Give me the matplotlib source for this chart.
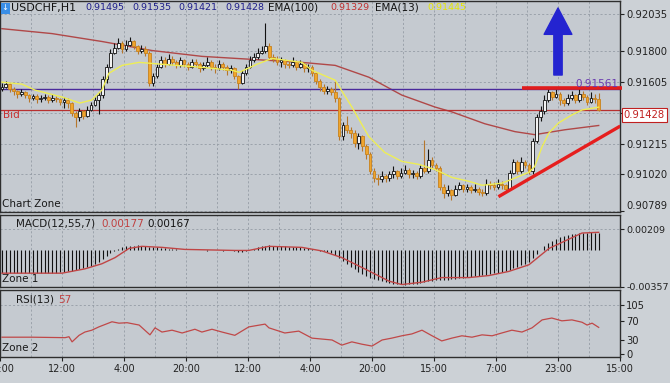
import numpy as np
import matplotlib
matplotlib.use("Agg")
import matplotlib.pyplot as plt
from matplotlib import transforms

plt.rcParams['font.family'] = ['DejaVu Sans']

# prices are 0.9xxxx, stored as xxxx (units of 0.00001 above 0.90)
open_first = 1560
close_p = [1575, 1590, 1560, 1545, 1530, 1540, 1520, 1505, 1515, 1495,
           1500, 1510, 1490, 1505, 1495, 1480, 1490, 1470, 1410, 1380,
           1420, 1390, 1430, 1460, 1490, 1520, 1620, 1700, 1790, 1820,
           1850, 1810, 1840, 1860, 1830, 1800, 1810, 1790, 1600, 1640,
           1700, 1740, 1720, 1750, 1730, 1710, 1740, 1720, 1700, 1730,
           1720, 1690, 1710, 1730, 1700, 1690, 1720, 1700, 1680, 1690,
           1640, 1600, 1660, 1700, 1740, 1760, 1790, 1800, 1830, 1760,
           1750, 1730, 1740, 1720, 1710, 1730, 1700, 1720, 1690, 1700,
           1660, 1610, 1570, 1550, 1560, 1540, 1500, 1260, 1330, 1300,
           1280, 1220, 1260, 1200, 1150, 1040, 1000, 990, 1010, 995,
           1020, 1040, 1010, 1030, 1050, 1020, 1030, 1010, 1060, 1040,
           1110, 1080, 1060, 940, 900, 920, 890, 930, 950, 930,
           940, 920, 930, 910, 905, 960, 950, 940, 960, 950,
           930, 1030, 1100, 1040, 1100, 1080, 1040, 1230, 1380, 1420,
           1490, 1540, 1510, 1530, 1490, 1470, 1500, 1520, 1490, 1530,
           1510, 1480, 1500, 1495, 1428]
high_p = [1600, 1610, 1600, 1570, 1555, 1560, 1550, 1530, 1530, 1525,
          1520, 1530, 1520, 1525, 1515, 1505, 1510, 1500, 1480, 1420,
          1440, 1430, 1450, 1480, 1510, 1540, 1640, 1720, 1810, 1850,
          1880, 1860, 1870, 1890, 1870, 1840, 1840, 1830, 1800, 1660,
          1720, 1770, 1760, 1780, 1770, 1740, 1760, 1750, 1730, 1750,
          1750, 1730, 1730, 1760, 1740, 1720, 1740, 1730, 1710, 1710,
          1700, 1650, 1680, 1720, 1770, 1790, 1820, 1830, 1980, 1850,
          1780, 1770, 1760, 1750, 1740, 1760, 1740, 1740, 1730, 1720,
          1710, 1670, 1620, 1590, 1580, 1570, 1610, 1510, 1350, 1390,
          1320, 1300, 1280, 1270, 1210, 1160, 1060, 1020, 1040, 1020,
          1040, 1070, 1050, 1060, 1080, 1060, 1050, 1040, 1080, 1240,
          1180, 1130, 1090, 1070, 960, 950, 930, 950, 970, 960,
          960, 950, 960, 940, 930, 990, 980, 970, 990, 980,
          960, 1050, 1120, 1110, 1130, 1110, 1090, 1250, 1400, 1450,
          1520, 1560, 1550, 1560, 1540, 1500, 1530, 1550, 1530, 1570,
          1550, 1520, 1540, 1525, 1535]
low_p = [1545, 1565, 1540, 1520, 1500, 1515, 1500, 1480, 1490, 1470,
         1480, 1490, 1470, 1480, 1475, 1460, 1440, 1440, 1390, 1320,
         1360, 1370, 1380, 1420, 1450, 1400, 1500, 1600, 1690, 1780,
         1810, 1790, 1800, 1830, 1810, 1780, 1790, 1770, 1580, 1580,
         1630, 1690, 1700, 1710, 1710, 1690, 1700, 1700, 1680, 1690,
         1700, 1670, 1680, 1700, 1680, 1660, 1680, 1680, 1650, 1660,
         1620, 1560, 1590, 1650, 1690, 1730, 1750, 1780, 1790, 1740,
         1730, 1710, 1700, 1690, 1690, 1700, 1680, 1690, 1670, 1670,
         1640, 1590, 1550, 1530, 1530, 1520, 1480, 1240, 1240, 1280,
         1250, 1190, 1180, 1170, 1120, 1020, 970, 950, 970, 970,
         980, 1000, 990, 1000, 1020, 1000, 1000, 990, 1000, 1030,
         1030, 1060, 1040, 920, 870, 880, 860, 880, 920, 910,
         910, 900, 910, 890, 880, 890, 930, 920, 930, 930,
         910, 920, 1020, 1020, 1030, 1060, 1020, 1020, 1220, 1360,
         1400, 1480, 1490, 1500, 1460, 1450, 1460, 1490, 1470, 1480,
         1490, 1460, 1470, 1470, 1421]

ema13_x = [0, 5.2, 8.5, 15.5, 20.1, 23.2, 25.8, 27.6, 31, 35.4, 41.3, 51.6, 59.4, 61.2,
           65.8, 69.7, 77.4, 80, 86, 90.3, 94.7, 98.8, 103.2, 107.6, 111.7, 116.1, 120.5,
           123.9, 129, 131.6, 136, 137.5, 139.4, 141.2, 143.7, 147.1, 149.7, 154]
ema13_p = [1603, 1590, 1553, 1509, 1471, 1490, 1553, 1659, 1709, 1728, 1716, 1697, 1678, 1665,
           1716, 1753, 1728, 1678, 1615, 1446, 1258, 1158, 1102, 1083, 1051, 1001, 976,
           951, 964, 989, 1033, 1070, 1195, 1283, 1346, 1396, 1427, 1445]
ema100_x = [0, 12.9, 25.8, 38.7, 51.6, 64.5, 77.4, 86, 94.7, 103.2, 111.7, 116.1, 124.6,
            132.4, 137.5, 145.3, 154]
ema100_p = [1941, 1910, 1860, 1803, 1766, 1747, 1728, 1709, 1634, 1521, 1446, 1415, 1340,
            1290, 1271, 1302, 1329]

# MACD(12,55,7), units of 0.00001
macd_hist = [-220, -221, -222, -222, -223, -222, -222, -221, -221, -220,
             -220, -219, -218, -217, -216, -214, -210, -204, -198, -190,
             -182, -174, -163, -150, -132, -110, -80, -50, -25, -5,
             15, 30, 40, 45, 48, 50, 48, 45, 38, 35,
             30, 25, 20, 15, 12, 10, 8, 5, 3, 2,
             2, 0, 0, -2, 0, 2, 0, -2, 0, 0,
             -5, -15, -20, -10, 5, 15, 30, 40, 48, 50,
             48, 45, 42, 40, 38, 35, 32, 30, 25, 20,
             12, 5, -2, -8, -15, -25, -40, -70, -100, -130,
             -160, -185, -210, -230, -250, -265, -280, -290, -300, -310,
             -318, -325, -330, -332, -333, -332, -330, -325, -320, -310,
             -300, -295, -292, -290, -288, -285, -280, -275, -270, -265,
             -260, -255, -250, -245, -240, -235, -230, -225, -220, -215,
             -205, -190, -175, -160, -145, -130, -110, -70, -30, 5,
             40, 70, 95, 115, 130, 140, 150, 158, 163, 168,
             172, 175, 176, 172, 167]
signal_x = [0, 15.5, 21.4, 25.8, 29.2, 32.8, 36.1, 41.3, 47.2, 60.1, 63.7, 68.9, 77.4, 82.6,
            87.7, 94.7, 99.9, 103.2, 108.4, 113.5, 120.5, 125.7, 130.8, 136, 141.2, 146.3,
            149.7, 154]
signal_v = [-222, -222, -180, -130, -70, 20, 40, 30, 10, 0, 0, 40, 30, -5,
            -70, -200, -300, -333, -310, -265, -265, -245, -205, -140, 20, 110,
            170, 177]

rsi_x = [0, 7.7, 16.3, 17.3, 18.1, 19.9, 21.4, 23.2, 25, 28.4, 30.2, 32.3, 35.4, 38.2, 39.5,
         41.3, 43.9, 46.5, 49.8, 51.6, 54.2, 56.8, 60.1, 63.7, 67.9, 68.9, 73, 76.6, 80,
         82.6, 85.2, 87.7, 90.3, 92.9, 95.5, 98.1, 100.6, 103.2, 105.8, 108.4, 111, 113.5,
         116.1, 118.7, 121.3, 123.9, 126.5, 129, 131.6, 134.2, 136.8, 139.4, 141.9, 144.5,
         147.1, 149.7, 151, 152.3, 154]
rsi_v = [36, 36, 35, 37, 26, 40, 47, 51, 58, 69, 66, 67, 62, 41, 56,
         47, 51, 45, 53, 47, 53, 47, 40, 58, 64, 56, 45, 49, 34,
         32, 30, 19, 26, 21, 17, 30, 34, 39, 43, 51, 39, 28,
         34, 39, 36, 41, 39, 45, 51, 47, 56, 73, 77, 71,
         73, 68, 62, 66, 57]

time_labels = ['20:00', '12:00', '4:00', '20:00', '12:00', '4:00', '20:00',
               '15:00', '7:00', '23:00', '15:00']
price_ticks = [0.92035, 0.91800, 0.91605, 0.91410, 0.91215, 0.91020, 0.90789]
macd_ticks = [0.00209, -0.00357]
rsi_ticks = [105, 70, 30, 0]

bid = 0.91428
level = 0.91561
resist_x = [134.2, 160]
resist_y = [0.91568, 0.91568]
trend_x = [128.5, 159.2]
trend_y = [0.90884, 0.91320]
arrow_x = 143.5
arrow_from = 0.91648
arrow_to = 0.92072


def price(v):
    return 0.9 + np.asarray(v, dtype=float) / 100000.0


W, H = 670.0, 383.0
bg = '#c5cad0'
gridc = '#959ca5'

fig = plt.figure(figsize=(6.7, 3.83), dpi=100)
fig.patch.set_facecolor('#ccd1d6')


def box(top, bottom):
    return [0.0, 1 - bottom / H, 620 / W, (bottom - top) / H]


ax1 = fig.add_axes(box(1, 212))
ax2 = fig.add_axes(box(215, 287))
ax3 = fig.add_axes(box(290, 357))


def style(ax, ylim, yticks, labels):
    ax.set_facecolor(bg)
    ax.set_xlim(-0.5, 159.5)
    ax.set_ylim(*ylim)
    ax.yaxis.tick_right()
    ax.set_yticks(yticks)
    ax.set_yticklabels(labels)
    ax.tick_params(axis='y', labelsize=7.2, colors='#222222', length=3, width=0.8, pad=1.5)
    ax.set_xticks(np.arange(0, 161, 16) - 0.5)
    ax.set_xticks(np.arange(8, 161, 16) - 0.5, minor=True)
    ax.tick_params(axis='x', which='minor', length=0)
    ax.grid(axis='x', which='both', ls=(0, (2.5, 2.5)), color=gridc, lw=0.6)
    for s in ax.spines.values():
        s.set_color('#2e2e2e')
        s.set_linewidth(1.0)


# ---- main chart
style(ax1, (0.90782, 0.92116), price_ticks, ['%.5f' % t for t in price_ticks])
ax1.tick_params(axis='x', which='both', labelbottom=False, length=0)
for t in price_ticks:
    ax1.axhline(t, ls=(0, (2.5, 2.5)), color=gridc, lw=0.6, zorder=0.5)
ax1.get_yticklabels()[-1].set_va('bottom')

c = price(close_p)
o = np.r_[price(open_first), c[:-1]]
h = price(high_p)
l = price(low_p)
x = np.arange(len(c))
up = c >= o
ax1.vlines(x[up], l[up], h[up], color='#111111', lw=0.8, zorder=3)
ax1.vlines(x[~up], l[~up], h[~up], color='#b5762c', lw=0.8, zorder=3)
lo = np.minimum(o, c)
hh = np.maximum(np.abs(c - o), 0.00002)
ax1.bar(x[up], hh[up], 0.72, bottom=lo[up], color='#f2f2f2', edgecolor='#111111', lw=0.6, zorder=4)
ax1.bar(x[~up], hh[~up], 0.72, bottom=lo[~up], color='#f0a52c', edgecolor='#c8821e', lw=0.6, zorder=4)

ax1.plot(ema100_x, price(ema100_p), color='#b04848', lw=1.0, zorder=2)
ax1.plot(ema13_x, price(ema13_p), color='#eeee55', lw=1.0, zorder=5)

ax1.axhline(level, color='#4a2a9c', lw=1.0, zorder=2)
ax1.axhline(bid, color='#b83030', lw=0.9, zorder=2)
ax1.plot(resist_x, resist_y, color='#e01c1c', lw=2.6, solid_capstyle='butt', zorder=6, clip_on=False)
ax1.plot(trend_x, trend_y, color='#e61e1e', lw=2.4, zorder=6)
ax1.annotate('', xy=(arrow_x, arrow_to), xytext=(arrow_x, arrow_from),
             arrowprops=dict(arrowstyle='simple,head_width=2.0,head_length=1.9,tail_width=0.6',
                             color='#2424d0', shrinkA=0, shrinkB=0, mutation_scale=10), zorder=7)

trans = transforms.blended_transform_factory(ax1.transAxes, ax1.transData)
ax1.text(1.006, bid, '0.91428', transform=trans, ha='left', va='top', fontsize=7.2,
         color='#c02020', clip_on=False, zorder=10,
         bbox=dict(boxstyle='square,pad=0.2', fc='white', ec='#c02020', lw=0.8))
ax1.text(0.997, level, '0.91561', transform=trans, ha='right', va='bottom', fontsize=7.5,
         color='#6a3cb0', zorder=10)
ax1.text(0.005, bid - 0.00003, 'Bid', transform=trans, ha='left', va='top', fontsize=7.5,
         color='#c83030')
ax1.text(0.004, 0.015, 'Chart Zone', transform=ax1.transAxes, ha='left', va='bottom',
         fontsize=7.5, color='#1a1a1a')

# ---- MACD
style(ax2, (-0.00357, 0.00346), macd_ticks, ['%.5f' % t for t in macd_ticks])
ax2.tick_params(axis='x', which='both', labelbottom=False, length=0)
ax2.tick_params(axis='y', labelsize=6.8)
ax2.axhline(macd_ticks[0], ls=(0, (2.5, 2.5)), color=gridc, lw=0.6, zorder=0.5)
ax2.vlines(x, 0, np.asarray(macd_hist) / 100000.0, color='#111111', lw=0.8, zorder=3)
ax2.plot(signal_x, np.asarray(signal_v) / 100000.0, color='#c04545', lw=1.0, zorder=4)
ax2.text(16 / 620, 1 - 9 / 72, 'MACD(12,55,7)', transform=ax2.transAxes, va='center',
         fontsize=7.5, color='#1a1a1a')
ax2.text(101 / 620, 1 - 9 / 72, '0.00177', transform=ax2.transAxes, va='center',
         fontsize=7.5, color='#c04040')
ax2.text(147 / 620, 1 - 9 / 72, '0.00167', transform=ax2.transAxes, va='center',
         fontsize=7.5, color='#111111')
ax2.text(0.004, 8 / 72, 'Zone 1', transform=ax2.transAxes, va='center', fontsize=7.5,
         color='#1a1a1a')

# ---- RSI
style(ax3, (-6.4, 137), rsi_ticks, [str(t) for t in rsi_ticks])
ax3.axhline(rsi_ticks[0], ls=(0, (2.5, 2.5)), color=gridc, lw=0.6, zorder=0.5)
ax3.set_xticklabels(time_labels)
ax3.tick_params(axis='x', which='major', labelsize=7, colors='#222222', length=3, width=0.8, pad=2)
ax3.plot(rsi_x, rsi_v, color='#c04848', lw=0.9, zorder=4)
ax3.text(16 / 620, 1 - 10 / 67, 'RSI(13)', transform=ax3.transAxes, va='center',
         fontsize=7.5, color='#1a1a1a')
ax3.text(58 / 620, 1 - 10 / 67, '57', transform=ax3.transAxes, va='center',
         fontsize=7.5, color='#c04040')
ax3.text(0.004, 9 / 67, 'Zone 2', transform=ax3.transAxes, va='center', fontsize=7.5,
         color='#1a1a1a')

# ---- header line
hy = 1 - 8 / H
fig.text(1.5 / W, hy, '\u2193', fontsize=6, color='white', va='center', ha='left',
         bbox=dict(boxstyle='square,pad=0.12', fc='#3a8ee6', ec='none'))
fig.text(11 / W, hy, 'USDCHF,H1', fontsize=8, color='#111111', va='center')
header_vals = ['0.91495', '0.91535', '0.91421', '0.91428']
header_x = [85, 132, 178, 225]
for hx, hv in zip(header_x, header_vals):
    fig.text(hx / W, hy, hv, fontsize=6.8, color='#1e1e8a', va='center')
fig.text(268 / W, hy, 'EMA(100)', fontsize=7.5, color='#111111', va='center')
fig.text(330 / W, hy, '0.91329', fontsize=6.8, color='#c03030', va='center')
fig.text(375 / W, hy, 'EMA(13)', fontsize=7.5, color='#111111', va='center')
fig.text(427 / W, hy, '0.91445', fontsize=6.8, color='#e6e600', va='center')

fig.savefig('out.png', dpi=100, facecolor=fig.get_facecolor())
